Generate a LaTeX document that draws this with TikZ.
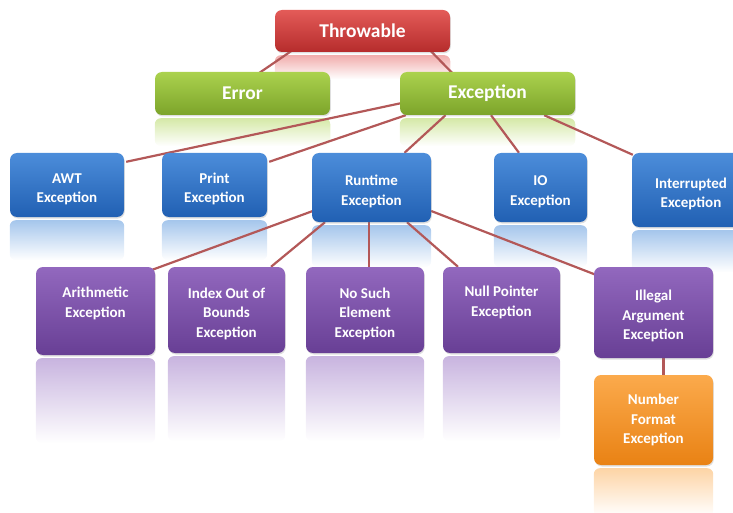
\documentclass[tikz,border=0pt]{standalone}
\usepackage{fontspec}
\setmainfont{Carlito}
\usetikzlibrary{shadows,calc,fadings}
\pgfdeclarelayer{bg}
\pgfsetlayers{bg,main}
\definecolor{redT}{HTML}{E35B58}\definecolor{redB}{HTML}{B62C2C}
\definecolor{grnT}{HTML}{ABD24E}\definecolor{grnB}{HTML}{7CA42A}
\definecolor{bluT}{HTML}{4C8DDA}\definecolor{bluB}{HTML}{2160B3}
\definecolor{purT}{HTML}{9268BE}\definecolor{purB}{HTML}{683F95}
\definecolor{orgT}{HTML}{FBAA4C}\definecolor{orgB}{HTML}{E98214}
\definecolor{linec}{HTML}{B35858}
\newcommand{\dn}{\rule{0pt}{18pt}}
\tikzset{
  box/.style={rounded corners=7pt, text=white, align=center, inner sep=0pt,
    font=\bfseries\fontsize{15}{19.5}\selectfont,
    drop shadow={opacity=0.25, shadow xshift=0.8pt, shadow yshift=-1.5pt}},
  bigbox/.style={box, font=\bfseries\fontsize{19.5}{23}\selectfont},
  redbox/.style={bigbox, top color=redT, bottom color=redB},
  grnbox/.style={bigbox, top color=grnT, bottom color=grnB},
  blubox/.style={box, top color=bluT, bottom color=bluB},
  purbox/.style={box, top color=purT, bottom color=purB},
  orgbox/.style={box, top color=orgT, bottom color=orgB},
  conn/.style={draw=linec, line width=2.2pt},
}
\newcommand{\mkrefl}[3]{%
  \fill[rounded corners=6pt, #2!50!white, path fading=south]
    ([yshift=-3pt]#1.south west) rectangle ([yshift=-3pt-#3pt]#1.south east);}
\begin{document}
\begin{tikzpicture}[x=1pt,y=-1pt]
\useasboundingbox (0,0) rectangle (733,513);
\clip (0,0) rectangle (733,513);
% nodes
\node[redbox, minimum width=175pt, minimum height=42pt] (throw) at (362.5,31) {Throwable};
\node[grnbox, minimum width=175pt, minimum height=43pt] (error) at (242.5,93.5) {Error};
\node[grnbox, minimum width=175pt, minimum height=43pt] (exc) at (487.5,93.5) {Exception};
\node[blubox, minimum width=114pt, minimum height=64pt] (awt) at (67,185) {\dn AWT\\Exception};
\node[blubox, minimum width=105pt, minimum height=64pt] (print) at (214.5,185) {\dn Print\\Exception};
\node[blubox, minimum width=119pt, minimum height=69pt] (runtime) at (371.5,187.5) {\dn Runtime\\Exception};
\node[blubox, minimum width=93pt, minimum height=69pt] (io) at (540.5,187.5) {\dn IO\\Exception};
\node[blubox, minimum width=118pt, minimum height=74pt] (inter) at (691,190) {\dn Interrupted\\Exception};
\node[purbox, minimum width=119pt, minimum height=88pt] (arith) at (95.5,311) {\dn Arithmetic\\Exception\\\strut};
\node[purbox, minimum width=117pt, minimum height=86pt] (index) at (226.5,310) {\dn Index Out of\\Bounds\\Exception};
\node[purbox, minimum width=118pt, minimum height=86pt] (nosuch) at (365,310) {\dn No Such\\Element\\Exception};
\node[purbox, minimum width=117pt, minimum height=86pt] (null) at (501.5,310) {\dn Null Pointer\\Exception\\\strut};
\node[purbox, minimum width=119pt, minimum height=91pt] (illegal) at (653.5,312.5) {\dn Illegal\\Argument\\Exception};
\node[orgbox, minimum width=119pt, minimum height=90pt] (number) at (653.5,420) {Number\\Format\\Exception};
\begin{pgfonlayer}{bg}
% reflections
\mkrefl{throw}{redT}{24}
\mkrefl{error}{grnT}{28}
\mkrefl{exc}{grnT}{28}
\mkrefl{awt}{bluT}{40}
\mkrefl{print}{bluT}{40}
\mkrefl{runtime}{bluT}{42}
\mkrefl{io}{bluT}{42}
\mkrefl{inter}{bluT}{42}
\mkrefl{arith}{purT}{85}
\mkrefl{index}{purT}{85}
\mkrefl{nosuch}{purT}{85}
\mkrefl{null}{purT}{85}
\mkrefl{number}{orgT}{48}
% connectors
\draw[conn] ([shift={(-70,-2)}]throw.south) -- ([shift={(15.5,2)}]error.north);
\draw[conn] ([shift={(67.5,-2)}]throw.south) -- ([shift={(-34.5,2)}]exc.north);
\draw[conn] ([shift={(2,9.5)}]exc.west) -- ([shift={(2,9)}]awt.north east);
\draw[conn] ([shift={(6,0)}]exc.south west) -- ([shift={(2,9)}]print.north east);
\draw[conn] ([shift={(-42,0)}]exc.south) -- ([shift={(33,0)}]runtime.north);
\draw[conn] ([shift={(3.5,0)}]exc.south) -- ([shift={(-21.5,0)}]io.north);
\draw[conn] ([shift={(-31,0)}]exc.south east) -- ([shift={(1,2)}]inter.north west);
\draw[conn] ([shift={(1,23.5)}]runtime.west) -- ([shift={(-3,3)}]arith.north east);
\draw[conn] ([shift={(-46.5,0)}]runtime.south) -- ([shift={(44.5,0)}]index.north);
\draw[conn] ([shift={(-2.5,0)}]runtime.south) -- ([shift={(4,0)}]nosuch.north);
\draw[conn] ([shift={(35.5,0)}]runtime.south) -- ([shift={(-43.5,0)}]null.north);
\draw[conn] ([shift={(0,23.5)}]runtime.east) -- ([shift={(2,8)}]illegal.north west);
\draw[conn] ([shift={(10,0)}]illegal.south) -- ([shift={(10,0)}]number.north);
\end{pgfonlayer}
\end{tikzpicture}
\end{document}
